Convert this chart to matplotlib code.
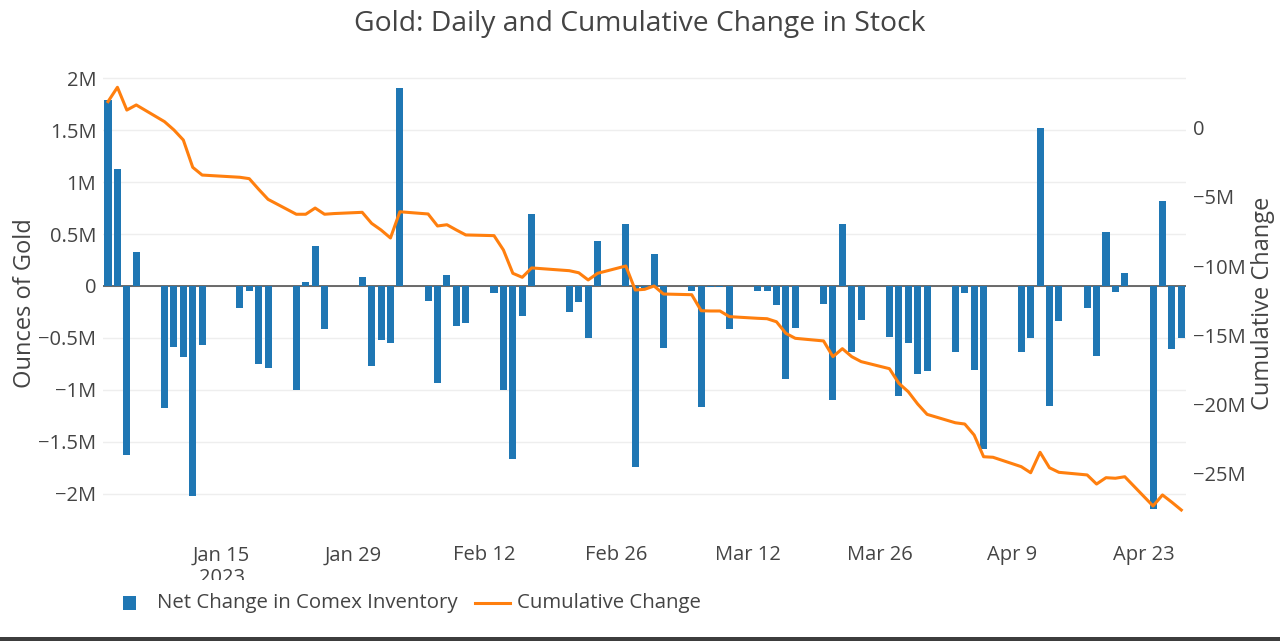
import numpy as np
import matplotlib
matplotlib.use("Agg")
import matplotlib.pyplot as plt
import matplotlib.dates as mdates
from matplotlib.patches import Rectangle
from matplotlib.lines import Line2D
from matplotlib.ticker import FuncFormatter

# trading days (Jan 27 and Apr 7 carry no change)
dates = [
    "2023-01-03", "2023-01-04", "2023-01-05", "2023-01-06",
    "2023-01-09", "2023-01-10", "2023-01-11", "2023-01-12", "2023-01-13",
    "2023-01-17", "2023-01-18", "2023-01-19", "2023-01-20",
    "2023-01-23", "2023-01-24", "2023-01-25", "2023-01-26", "2023-01-27",
    "2023-01-30", "2023-01-31", "2023-02-01", "2023-02-02", "2023-02-03",
    "2023-02-06", "2023-02-07", "2023-02-08", "2023-02-09", "2023-02-10",
    "2023-02-13", "2023-02-14", "2023-02-15", "2023-02-16", "2023-02-17",
    "2023-02-21", "2023-02-22", "2023-02-23", "2023-02-24",
    "2023-02-27", "2023-02-28", "2023-03-01", "2023-03-02", "2023-03-03",
    "2023-03-06", "2023-03-07", "2023-03-08", "2023-03-09", "2023-03-10",
    "2023-03-13", "2023-03-14", "2023-03-15", "2023-03-16", "2023-03-17",
    "2023-03-20", "2023-03-21", "2023-03-22", "2023-03-23", "2023-03-24",
    "2023-03-27", "2023-03-28", "2023-03-29", "2023-03-30", "2023-03-31",
    "2023-04-03", "2023-04-04", "2023-04-05", "2023-04-06", "2023-04-07",
    "2023-04-10", "2023-04-11", "2023-04-12", "2023-04-13", "2023-04-14",
    "2023-04-17", "2023-04-18", "2023-04-19", "2023-04-20", "2023-04-21",
    "2023-04-24", "2023-04-25", "2023-04-26", "2023-04-27",
]

# daily net change, millions of ounces
net_change = [
    1.79, 1.125, -1.625, 0.33,
    -1.175, -0.59, -0.68, -2.02, -0.57,
    -0.21, -0.05, -0.75, -0.79,
    -1.0, 0.04, 0.39, -0.41, 0.0,
    0.085, -0.775, -0.52, -0.545, 1.907,
    -0.14, -0.93, 0.11, -0.39, -0.36,
    -0.07, -1.0, -1.67, -0.29, 0.69,
    -0.25, -0.155, -0.50, 0.43,
    0.60, -1.74, -0.02, 0.31, -0.595,
    -0.045, -1.17, -0.01, -0.01, -0.41,
    -0.045, -0.045, -0.18, -0.90, -0.40,
    -0.17, -1.10, 0.60, -0.635, -0.33,
    -0.49, -1.06, -0.545, -0.85, -0.82,
    -0.64, -0.065, -0.81, -1.57, 0.0,
    -0.635, -0.50, 1.52, -1.16, -0.34,
    -0.21, -0.67, 0.52, -0.06, 0.128,
    -2.15, 0.82, -0.61, -0.50,
]

# cumulative change, millions of ounces
cumulative = [
    1.91, 2.95, 1.30, 1.67,
    0.46, -0.14, -0.87, -2.85, -3.41,
    -3.57, -3.67, -4.44, -5.17,
    -6.25, -6.25, -5.80, -6.25, -6.20,
    -6.11, -6.91, -7.39, -7.97, -6.07,
    -6.23, -7.10, -7.01, -7.39, -7.75,
    -7.80, -8.84, -10.53, -10.82, -10.14,
    -10.34, -10.49, -11.01, -10.53,
    -10.00, -11.74, -11.69, -11.45, -12.03,
    -12.08, -13.24, -13.26, -13.26, -13.67,
    -13.79, -13.82, -14.04, -14.88, -15.24,
    -15.43, -16.57, -15.99, -16.57, -16.93,
    -17.44, -18.50, -19.11, -20.00, -20.75,
    -21.36, -21.45, -22.25, -23.82, -23.86,
    -24.54, -24.98, -23.50, -24.62, -24.95,
    -25.14, -25.80, -25.34, -25.38, -25.27,
    -27.39, -26.59, -27.12, -27.68,
]

left_ticks = [-2.0, -1.5, -1.0, -0.5, 0.0, 0.5, 1.0, 1.5, 2.0]
right_ticks = [-25, -20, -15, -10, -5, 0]

TEXT = "#444444"
BLUE = "#1f77b4"
ORANGE = "#ff7f0e"
W, H = 1280, 641

plt.rcParams["font.family"] = ["Open Sans", "DejaVu Sans"]


def fx(px):
    return px / W


def fy(py):
    return 1 - py / H


def fmt_m(v, pos=None):
    if abs(v) < 1e-9:
        return "0"
    s = f"{abs(v) / 1e6:g}M"
    return ("\u2212" + s) if v < 0 else s


fig = plt.figure(figsize=(W / 100, H / 100), dpi=100)
ax = fig.add_axes([fx(103.3), fy(530), fx(1186 - 103.3), (530 - 67) / H])
ax_w = 1186 - 103.3

x = np.array(dates, dtype="datetime64[D]")
net = np.array(net_change) * 1e6
cum = np.array(cumulative) * 1e6

ax.bar(x, net, width=0.75, color=BLUE, zorder=3)
ax.axhline(0, color=TEXT, lw=1.1, zorder=2)
ax.set_ylim(-2.351e6, 2.110e6)
ax.set_yticks([t * 1e6 for t in left_ticks])
ax.yaxis.set_major_formatter(FuncFormatter(fmt_m))
ax.yaxis.grid(True, color="#eeeeee", lw=1.0, zorder=0)
ax.set_axisbelow(True)

ax.set_xlim(np.datetime64("2023-01-02T12:00"), np.datetime64("2023-04-27T12:00"))
ax.set_xticks(np.arange(np.datetime64("2023-01-15"), np.datetime64("2023-04-24"), 14))
ax.xaxis.set_major_formatter(mdates.DateFormatter("%b %-d"))

ax2 = ax.twinx()
ax2.plot(x, cum, color=ORANGE, lw=2.2, solid_joinstyle="round", zorder=4)
ax2.set_ylim(-29.13e6, 4.42e6)
ax2.set_yticks([t * 1e6 for t in right_ticks])
ax2.yaxis.set_major_formatter(FuncFormatter(fmt_m))

for a in (ax, ax2):
    for s in a.spines.values():
        s.set_visible(False)
    a.tick_params(length=0, labelsize=14.5, colors=TEXT)
ax.tick_params(axis="y", pad=5)
ax.tick_params(axis="x", pad=11)
ax2.tick_params(axis="y", pad=5)

ax.set_ylabel("Ounces of Gold", fontsize=17, color=TEXT)
ax.yaxis.set_label_coords((37 - 103.3) / ax_w, 0.49)
ax2.set_ylabel("Cumulative Change", fontsize=17, color=TEXT)
ax2.yaxis.set_label_coords((1251 - 103.3) / ax_w, 0.49)

fig.text(0.5, fy(24), "Gold: Daily and Cumulative Change in Stock",
         ha="center", va="center", fontsize=20.3, color=TEXT)

# year under the first date tick, cut off at the bottom like the original
fig.text(fx(222), fy(568), "2023", ha="center", va="top", fontsize=14.5, color=TEXT)
fig.patches.append(Rectangle((fx(180), fy(592)), fx(90), 12 / H, transform=fig.transFigure,
                             facecolor="white", edgecolor="none", zorder=10))

# legend
fig.patches.append(Rectangle((fx(122.5), fy(610)), fx(13.5), 14 / H, transform=fig.transFigure,
                             facecolor=BLUE, edgecolor="none"))
fig.text(fx(157), fy(603), "Net Change in Comex Inventory", ha="left", va="center",
         fontsize=14.7, color=TEXT)
fig.lines.append(Line2D([fx(475), fx(510)], [fy(603), fy(603)], transform=fig.transFigure,
                        color=ORANGE, lw=2.2))
fig.text(fx(517), fy(603), "Cumulative Change", ha="left", va="center",
         fontsize=14.7, color=TEXT)

# dark strip along the bottom edge
fig.patches.append(Rectangle((0, 0), 1, 4 / H, transform=fig.transFigure,
                             facecolor="#3d3d3d", edgecolor="none"))

fig.savefig("out.png", dpi=100, facecolor="white")
